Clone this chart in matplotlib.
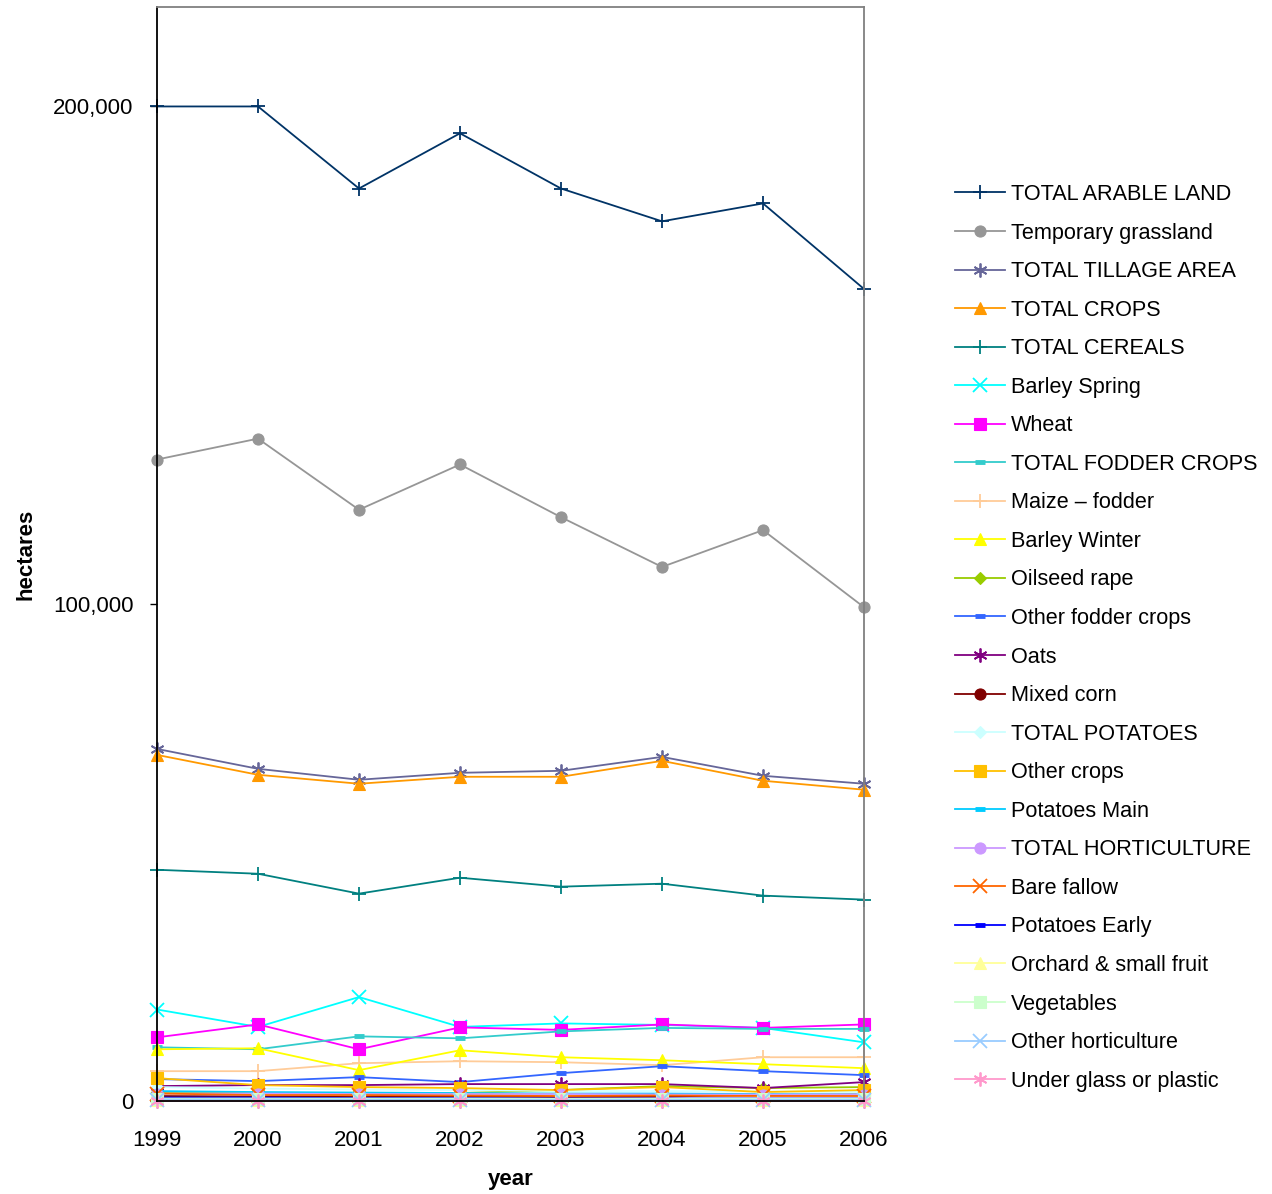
import matplotlib
matplotlib.use("Agg")
from matplotlib import pyplot as plt
from matplotlib.ticker import FuncFormatter

years = [1999, 2000, 2001, 2002, 2003, 2004, 2005, 2006]

series_names = [
    "TOTAL ARABLE LAND", "Temporary grassland", "TOTAL TILLAGE AREA", "TOTAL CROPS",
    "TOTAL CEREALS", "Barley Spring", "Wheat", "TOTAL FODDER CROPS", "Maize \u2013 fodder",
    "Barley Winter", "Oilseed rape", "Other fodder crops", "Oats", "Mixed corn",
    "TOTAL POTATOES", "Other crops", "Potatoes Main", "TOTAL HORTICULTURE", "Bare fallow",
    "Potatoes Early", "Orchard & small fruit", "Vegetables", "Other horticulture",
    "Under glass or plastic",
]

total_arable = [200000, 200000, 183500, 194600, 183500, 176900, 180500, 163300]
temp_grass = [129000, 133200, 118900, 128000, 117400, 107400, 114800, 99300]
total_tillage = [70800, 66800, 64600, 66000, 66400, 69200, 65400, 63800]
total_crops = [69600, 65600, 63800, 65200, 65200, 68400, 64400, 62600]
total_cereals = [46500, 45700, 41700, 44900, 43100, 43700, 41300, 40500]
barley_spring = [18400, 14900, 20900, 14900, 15600, 15300, 14700, 11800]
wheat = [12800, 15400, 10400, 14800, 14300, 15400, 14700, 15400]
fodder_crops = [10800, 10400, 13000, 12600, 14000, 14700, 14500, 14500]
maize_fodder = [6000, 6000, 7600, 8000, 7800, 7200, 8800, 8800]
barley_winter = [10400, 10600, 6200, 10200, 8800, 8200, 7400, 6600]
oilseed_rape = [1800, 1600, 1400, 1600, 2200, 3000, 2600, 2800]
other_fodder = [4400, 4000, 4800, 3800, 5600, 7000, 6000, 5200]
oats = [3000, 3200, 3200, 3400, 3400, 3400, 2600, 3800]
mixed_corn = [1000, 900, 800, 900, 800, 900, 1200, 1300]
total_potatoes = [2800, 2500, 2300, 2200, 2000, 2000, 1900, 1800]
other_crops = [4600, 3200, 2800, 2600, 2200, 2800, 1800, 2200]
potatoes_main = [2000, 1800, 1700, 1600, 1500, 1500, 1400, 1300]
total_hort = [1500, 1500, 1400, 1400, 1400, 1300, 1300, 1300]
bare_fallow = [1500, 1200, 1200, 1100, 1000, 1100, 1000, 1000]
potatoes_early = [700, 700, 600, 600, 500, 500, 500, 500]
orchard = [300, 300, 300, 300, 300, 300, 300, 300]
vegetables = [500, 500, 500, 500, 450, 450, 450, 450]
other_hort = [300, 300, 250, 250, 250, 250, 250, 250]
under_glass = [100, 100, 100, 100, 100, 100, 100, 100]

values = [
    total_arable, temp_grass, total_tillage, total_crops, total_cereals, barley_spring,
    wheat, fodder_crops, maize_fodder, barley_winter, oilseed_rape, other_fodder, oats,
    mixed_corn, total_potatoes, other_crops, potatoes_main, total_hort, bare_fallow,
    potatoes_early, orchard, vegetables, other_hort, under_glass,
]

colors = [
    "#003366", "#969696", "#666699", "#FF9900", "#008080", "#00FFFF", "#FF00FF", "#33CCCC",
    "#FFCC99", "#FFFF00", "#99CC00", "#3366FF", "#800080", "#800000", "#CCFFFF", "#FFC000",
    "#00CCFF", "#CC99FF", "#FF6600", "#0000FF", "#FFFF99", "#CCFFCC", "#99CCFF", "#FF99CC",
]

star = (6, 2, 0)
markers = [
    "+", "o", star, "^", "+", "x", "s", "_", "+", "^", "D", "_", star, "o", "D", "s",
    "_", "o", "x", "_", "^", "s", "x", star,
]

plt.rcParams['font.family'] = ['Liberation Sans', 'DejaVu Sans']

fig = plt.figure(figsize=(12.72, 11.94), dpi=100)
ax = fig.add_axes([157 / 1272, 1 - 1101 / 1194, (864 - 157) / 1272, (1101 - 7) / 1194])

for name, vals, c, m in zip(series_names, values, colors, markers):
    if m in ("+", "x", star):
        ms, mew = 10, 1.3
    elif m == "_":
        ms, mew = 7, 3.5
    else:
        ms, mew = 8 if m != "D" else 6.5, 0.8
    ax.plot(years, vals, color=c, lw=1.3, marker=m, markersize=ms, markeredgewidth=mew,
            markerfacecolor=c, markeredgecolor=c, label=name, clip_on=False)

ax.set_xlim(1999, 2006)
ax.set_ylim(0, 220000)
ax.set_xticks(years)
ax.set_yticks([0, 100000, 200000])
ax.yaxis.set_major_formatter(FuncFormatter(lambda v, p: f"{int(v):,}"))
ax.tick_params(axis='both', labelsize=16, direction='out', length=5, width=1)
ax.tick_params(axis='x', pad=16)
ax.tick_params(axis='y', pad=12)

for s in ("top", "right"):
    ax.spines[s].set_color("#808080")
    ax.spines[s].set_linewidth(1.3)
for s in ("left", "bottom"):
    ax.spines[s].set_color("black")
    ax.spines[s].set_linewidth(1.3)

ax.set_ylabel("hectares", fontsize=16, fontweight="bold", labelpad=12)
ax.set_xlabel("year", fontsize=16, fontweight="bold", labelpad=13)

fig.legend(loc="upper left", bbox_to_anchor=(955 / 1272, 1 - 184 / 1194), frameon=False,
           fontsize=15.6, handlelength=2.3, handletextpad=0.28, labelspacing=0.81,
           borderpad=0, borderaxespad=0)

fig.savefig("out.png", dpi=100)
